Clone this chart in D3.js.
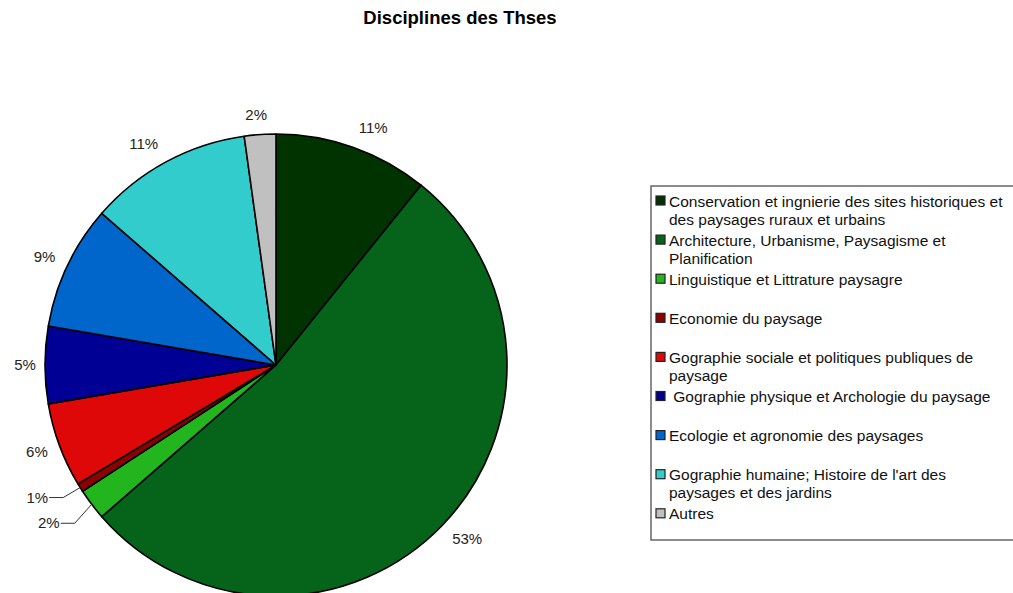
<!DOCTYPE html>
<html><head><meta charset="utf-8">
<script src="https://cdn.jsdelivr.net/npm/d3@7"></script>
<style>body{margin:0;background:#fff}svg{display:block}</style>
</head><body>
<script>
const title = "Disciplines des Thses";
const categories = [
  "Conservation et ingnierie des sites historiques et des paysages ruraux et urbains",
  "Architecture, Urbanisme, Paysagisme et Planification",
  "Linguistique et Littrature paysagre",
  "Economie du paysage",
  "Gographie sociale et politiques publiques de paysage",
  " Gographie physique et Archologie du paysage",
  "Ecologie et agronomie des paysages",
  "Gographie humaine; Histoire de l'art des paysages et des jardins",
  "Autres"
];
const legendLines = [
  ["Conservation et ingnierie des sites historiques et", "des paysages ruraux et urbains"],
  ["Architecture, Urbanisme, Paysagisme et", "Planification"],
  ["Linguistique et Littrature paysagre"],
  ["Economie du paysage"],
  ["Gographie sociale et politiques publiques de", "paysage"],
  [" Gographie physique et Archologie du paysage"],
  ["Ecologie et agronomie des paysages"],
  ["Gographie humaine; Histoire de l'art des", "paysages et des jardins"],
  ["Autres"]
];
const values = [10.8, 52.8, 2.2, 0.6, 5.9, 5.4, 8.7, 11.4, 2.2];
const colors = ["#003300","#05631a","#22b51e","#8e0000","#df0808","#000094","#0066cc","#33cccc","#c0c0c0"];

const W = 1013, H = 593;
const cx = 276, cy = 365, R = 231;
const svg = d3.select("body").append("svg").attr("width", W).attr("height", H)
  .style("font-family", "'Liberation Sans', Arial, Helvetica, sans-serif");

svg.append("text").attr("x", 460).attr("y", 24).attr("text-anchor", "middle")
  .attr("font-weight", "bold").attr("font-size", 18.5).attr("fill", "#000").text(title);

const data = categories.map((c, i) => ({name: c, value: values[i], color: colors[i]}));
const pie = d3.pie().value(d => d.value).sort(null);
const arcs = pie(data);
const arc = d3.arc().innerRadius(0).outerRadius(R);
const total = d3.sum(values);
const fmt = v => Math.round(v / total * 100) + "%";

const g = svg.append("g").attr("transform", `translate(${cx},${cy})`);
g.selectAll("path.slice").data(arcs).join("path").attr("class", "slice")
  .attr("d", arc).attr("fill", d => d.data.color)
  .attr("stroke", "#000").attr("stroke-width", 1.6).attr("stroke-linejoin", "round");

const pt = (a, r) => [r * Math.sin(a), -r * Math.cos(a)];
const labelR = R + 20;
arcs.forEach((d, i) => {
  const mid = (d.startAngle + d.endAngle) / 2;
  const small = d.value / total < 0.03 && mid > Math.PI && mid < 1.5 * Math.PI;
  if (!small) {
    const [x, y] = pt(mid, labelR);
    const t = g.append("text").attr("y", y + 5).attr("text-anchor", "middle")
      .attr("font-size", 15).attr("fill", "#222").text(fmt(d.value));
    const hw = t.node().getComputedTextLength() / 2;
    const s = Math.sin(mid), c = Math.cos(mid);
    const extra = hw * Math.abs(c) * Math.max(-1, Math.min(1, s / 0.3));
    t.attr("x", x + extra);
  } else {
    const [ex, ey] = pt(mid, R);
    const drop = d.value / total < 0.01 ? 10 : 19;
    const elbowX = ex - 17, elbowY = ey + drop;
    const endX = elbowX - 14;
    g.append("polyline")
      .attr("points", [[ex, ey], [elbowX, elbowY], [endX, elbowY]].map(p => p.join(",")).join(" "))
      .attr("fill", "none").attr("stroke", "#333").attr("stroke-width", 1);
    g.append("text").attr("x", endX - 1).attr("y", elbowY + 5).attr("text-anchor", "end")
      .attr("font-size", 15).attr("fill", "#222").text(fmt(d.value));
  }
});

// legend
const lx = 651, ly = 186, lw = 370, lh = 354;
svg.append("rect").attr("x", lx).attr("y", ly).attr("width", lw).attr("height", lh)
  .attr("fill", "#fff").attr("stroke", "#666").attr("stroke-width", 1.5);
const step = 39.1;
const leg = svg.append("g");
legendLines.forEach((lines, i) => {
  const y0 = 200 + i * step;
  leg.append("rect").attr("x", 656).attr("y", y0 - 4).attr("width", 9).attr("height", 9)
    .attr("fill", colors[i]).attr("stroke", "#222").attr("stroke-width", 1.2);
  lines.forEach((t, j) => {
    leg.append("text").attr("x", 669).attr("y", y0 + 6.5 + j * 18)
      .attr("font-size", 15.5).attr("fill", "#111").attr("xml:space", "preserve")
      .style("white-space", "pre").text(t);
  });
});
</script>
</body></html>
